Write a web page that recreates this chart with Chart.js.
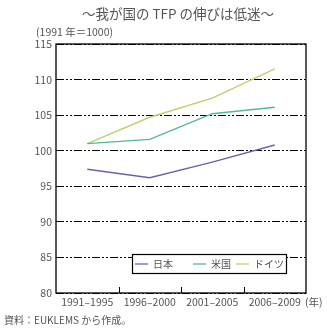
<!DOCTYPE html>
<html><head><meta charset="utf-8">
<script src="https://cdn.jsdelivr.net/npm/chart.js@4"></script>
<style>html,body{margin:0;padding:0;background:#fff}#c{display:block}</style>
</head><body>
<canvas id="c" width="327" height="329"></canvas>
<script>
const categories = ['1991–1995','1996–2000','2001–2005','2006–2009'];
const seriesNames = ['日本','米国','ドイツ'];
const japan = [97.4, 96.2, 98.4, 100.8];
const usa = [101.0, 101.6, 105.2, 106.1];
const germany = [101.0, 104.7, 107.4, 111.5];
const yTicks = [80,85,90,95,100,105,110,115];
const colors = ['#6a62a8','#52b89c','#b9d56a'];
const FONT = '"Noto Sans CJK JP", "Noto Sans", sans-serif';
const TXT = '#555';

const deco = {
  id:'deco',
  afterDraw(chart){
    const ctx = chart.ctx, a = chart.chartArea;
    ctx.save();
    ctx.strokeStyle='#000'; ctx.lineWidth=1.3;
    ctx.strokeRect(a.left, a.top, a.right-a.left, a.bottom-a.top);
    const xs = chart.scales.x;
    ctx.lineWidth=1;
    for(let i=1;i<categories.length;i++){
      const x = Math.round((xs.getPixelForValue(i-1)+xs.getPixelForValue(i))/2)+0.5;
      ctx.beginPath(); ctx.moveTo(x,a.bottom); ctx.lineTo(x,a.bottom-6); ctx.stroke();
    }
    ctx.fillStyle=TXT; ctx.textBaseline='middle';
    ctx.font='13.5px '+FONT; ctx.textAlign='center';
    ctx.fillText('～我が国の TFP の伸びは低迷～', 178, 14);
    ctx.font='10.5px '+FONT; ctx.textAlign='left';
    ctx.fillText('(1991 年＝1000)', 36, 32);
    ctx.fillText('(年)', 305, 302);
    ctx.font='10px '+FONT;
    ctx.fillText('資料：EUKLEMS から作成。', 4, 320);
    const lx=132, ly=254, lw=154, lh=19;
    ctx.fillStyle='#fff'; ctx.fillRect(lx,ly,lw,lh);
    ctx.strokeStyle='#000'; ctx.lineWidth=1.2; ctx.strokeRect(lx+0.5,ly+0.5,lw,lh);
    const pos=[135,193,236];
    ctx.font='10px '+FONT;
    chart.data.datasets.forEach((d,i)=>{
      ctx.strokeStyle=d.borderColor; ctx.lineWidth=1.3;
      ctx.beginPath(); ctx.moveTo(pos[i],ly+lh/2+0.5); ctx.lineTo(pos[i]+13,ly+lh/2+0.5); ctx.stroke();
      ctx.fillStyle=TXT; ctx.textAlign='left';
      ctx.fillText(d.label, pos[i]+18, ly+lh/2+1);
    });
    ctx.restore();
  }
};

new Chart(document.getElementById('c'), {
  type:'line',
  data:{
    labels:categories,
    datasets:[
      {label:seriesNames[0], data:japan, borderColor:colors[0]},
      {label:seriesNames[1], data:usa, borderColor:colors[1]},
      {label:seriesNames[2], data:germany, borderColor:colors[2]}
    ].map(d=>Object.assign(d,{borderWidth:1.4,pointRadius:0,tension:0,fill:false}))
  },
  options:{
    responsive:false, animation:false,
    layout:{padding:{left:0,right:21,top:44,bottom:0}},
    plugins:{legend:{display:false},tooltip:{enabled:false},title:{display:false}},
    scales:{
      x:{
        offset:true,
        grid:{display:false,drawTicks:false},
        border:{display:false},
        ticks:{color:TXT,font:{family:FONT,size:10.5},padding:3,maxRotation:0,autoSkip:false},
        afterFit(s){s.height=36;}
      },
      y:{
        min:80,max:115,
        afterBuildTicks(s){s.ticks=yTicks.map(v=>({value:v}));},
        grid:{color:'#000',lineWidth:1,drawTicks:false,
          borderDash:[8,2,2,2,2,2]},
        border:{display:false,dash:[8,2,2,2,2,2]},
        ticks:{color:TXT,font:{family:FONT,size:10.5},padding:4},
        afterFit(s){s.width=56;}
      }
    }
  },
  plugins:[deco]
});
</script>
</body></html>
